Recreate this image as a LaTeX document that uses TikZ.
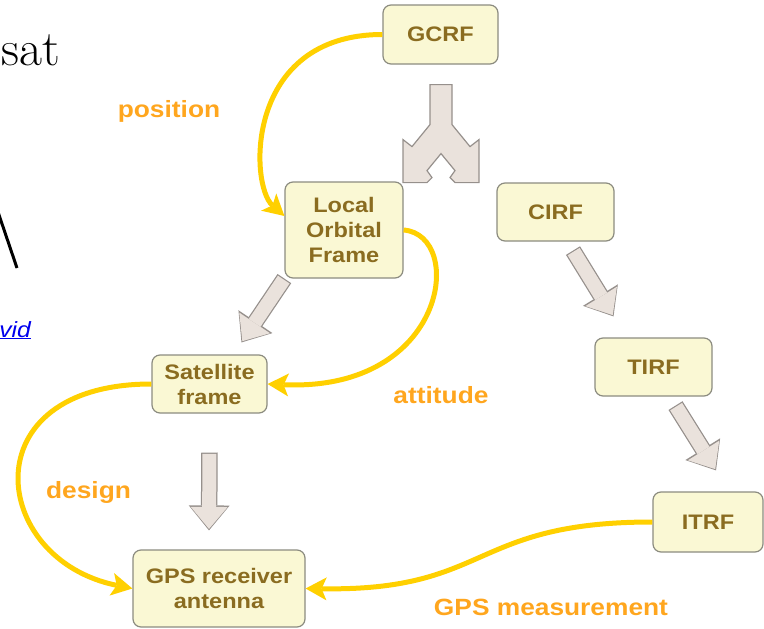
\documentclass[tikz,border=0pt]{standalone}
\usepackage{fontspec}
\newfontfamily\boxfont[FakeStretch=1.12]{Liberation Sans}
\usetikzlibrary{arrows.meta,calc}
\definecolor{boxfill}{RGB}{250,248,212}
\definecolor{boxline}{RGB}{140,140,128}
\definecolor{boxtext}{RGB}{138,108,32}
\definecolor{gold}{RGB}{255,208,0}
\definecolor{lblorange}{RGB}{255,166,30}
\definecolor{fatfill}{RGB}{234,226,220}
\definecolor{fatline}{RGB}{150,144,140}
\definecolor{linkblue}{RGB}{0,0,238}

\begin{document}
\begin{tikzpicture}[
  x=1pt, y=-1pt,
  box/.style={draw=boxline, fill=boxfill, rounded corners=8pt, line width=1.2pt, align=center, inner sep=0pt,
    text=boxtext, font=\boxfont\bfseries\fontsize{21}{25}\selectfont},
  lbl/.style={anchor=base, text=lblorange, font=\boxfont\bfseries\fontsize{23.5}{28}\selectfont},
  flow/.style={draw=gold, line width=5pt, -{Stealth[length=21pt,width=23pt,inset=5pt,line width=0pt]}},
  fat/.style={draw=fatfill, line width=14pt, shorten >=1.5pt, shorten <=1.2pt,
    -{Triangle[length=22pt,width=37pt,line width=0pt]},
    preaction={draw=fatline, line width=16.5pt, shorten >=0pt, shorten <=0pt,
      -{Triangle[length=25pt,width=41pt,line width=0pt]}}},
  fork/.style={draw=fatline, fill=fatfill, line width=1.2pt, line join=miter}
]
\useasboundingbox (0,0) rectangle (764,629);

% bits of the slide text on the left
\node[anchor=base east, inner sep=0pt, font=\fontsize{50}{50}\selectfont] (satword) at (60,65) {sat};
\draw[line width=3pt] (-2,212) -- (17,268);
\node[anchor=base east, inner sep=0pt, text=linkblue, font=\boxfont\itshape\fontsize{22}{22}\selectfont] (vidword) at (31,337) {\underline{vid}};

% frames
\node[box, minimum width=115pt, minimum height=59pt] (gcrf) at (440.5,34.5) {GCRF};
\node[box, minimum width=118pt, minimum height=96pt] (lof) at (344,230) {Local\\Orbital\\Frame};
\node[box, minimum width=117pt, minimum height=58pt] (cirf) at (555.5,212) {CIRF};
\node[box, minimum width=117pt, minimum height=58pt] (tirf) at (653.5,367) {TIRF};
\node[box, minimum width=110pt, minimum height=60pt] (itrf) at (708,522) {ITRF};
\node[box, minimum width=115pt, minimum height=58pt] (sat) at (209.5,384) {Satellite\\frame};
\node[box, minimum width=172pt, minimum height=77pt] (gps) at (219,588.5) {GPS receiver\\antenna};

% split arrow below GCRF
\draw[fork, shift={($(gcrf.south)+(0.5,0)$)}]
  (-11,20) -- (-11,60) -- (-29,82) -- (-38,75) -- (-38,118) -- (-14,118) -- (-9,113) -- (-14,106)
  -- (0,89) -- (14,106) -- (9,113) -- (14,118) -- (38,118) -- (38,75) -- (29,82) -- (11,60) -- (11,20) -- cycle;

% frame changes
\draw[fat] (lof.south west) -- ([xshift=32pt,yshift=12pt]sat.north);
\draw[fat] ([xshift=17.5pt,yshift=-9pt]cirf.south) -- ([xshift=-40pt,yshift=21pt]tirf.north);
\draw[fat] ([xshift=22pt,yshift=-9pt]tirf.south) -- ([xshift=8pt,yshift=21pt]itrf.north);
\draw[fat] ([yshift=-39pt]sat.south) -- ([xshift=-10pt,yshift=19pt]gps.north);

% what each link carries
\draw[flow] (gcrf.west) .. controls +(-138,0) and +(-35,-31) .. ([yshift=14pt]lof.west);
\draw[flow] (lof.east) .. controls +(62,5) and +(180,8) .. (sat.east);
\draw[flow] (sat.west) .. controls +(-182,0) and +(-143,-29) .. (gps.west);
\draw[flow] (itrf.west) .. controls +(-183,0) and +(185,3) .. (gps.east);

\node[lbl] (lpos) at (169,117) {position};
\node[lbl] (latt) at (441,403) {attitude};
\node[lbl] (ldes) at (88.5,498) {design};
\node[lbl] (lmeas) at (551,615) {GPS measurement};
\end{tikzpicture}
\end{document}
